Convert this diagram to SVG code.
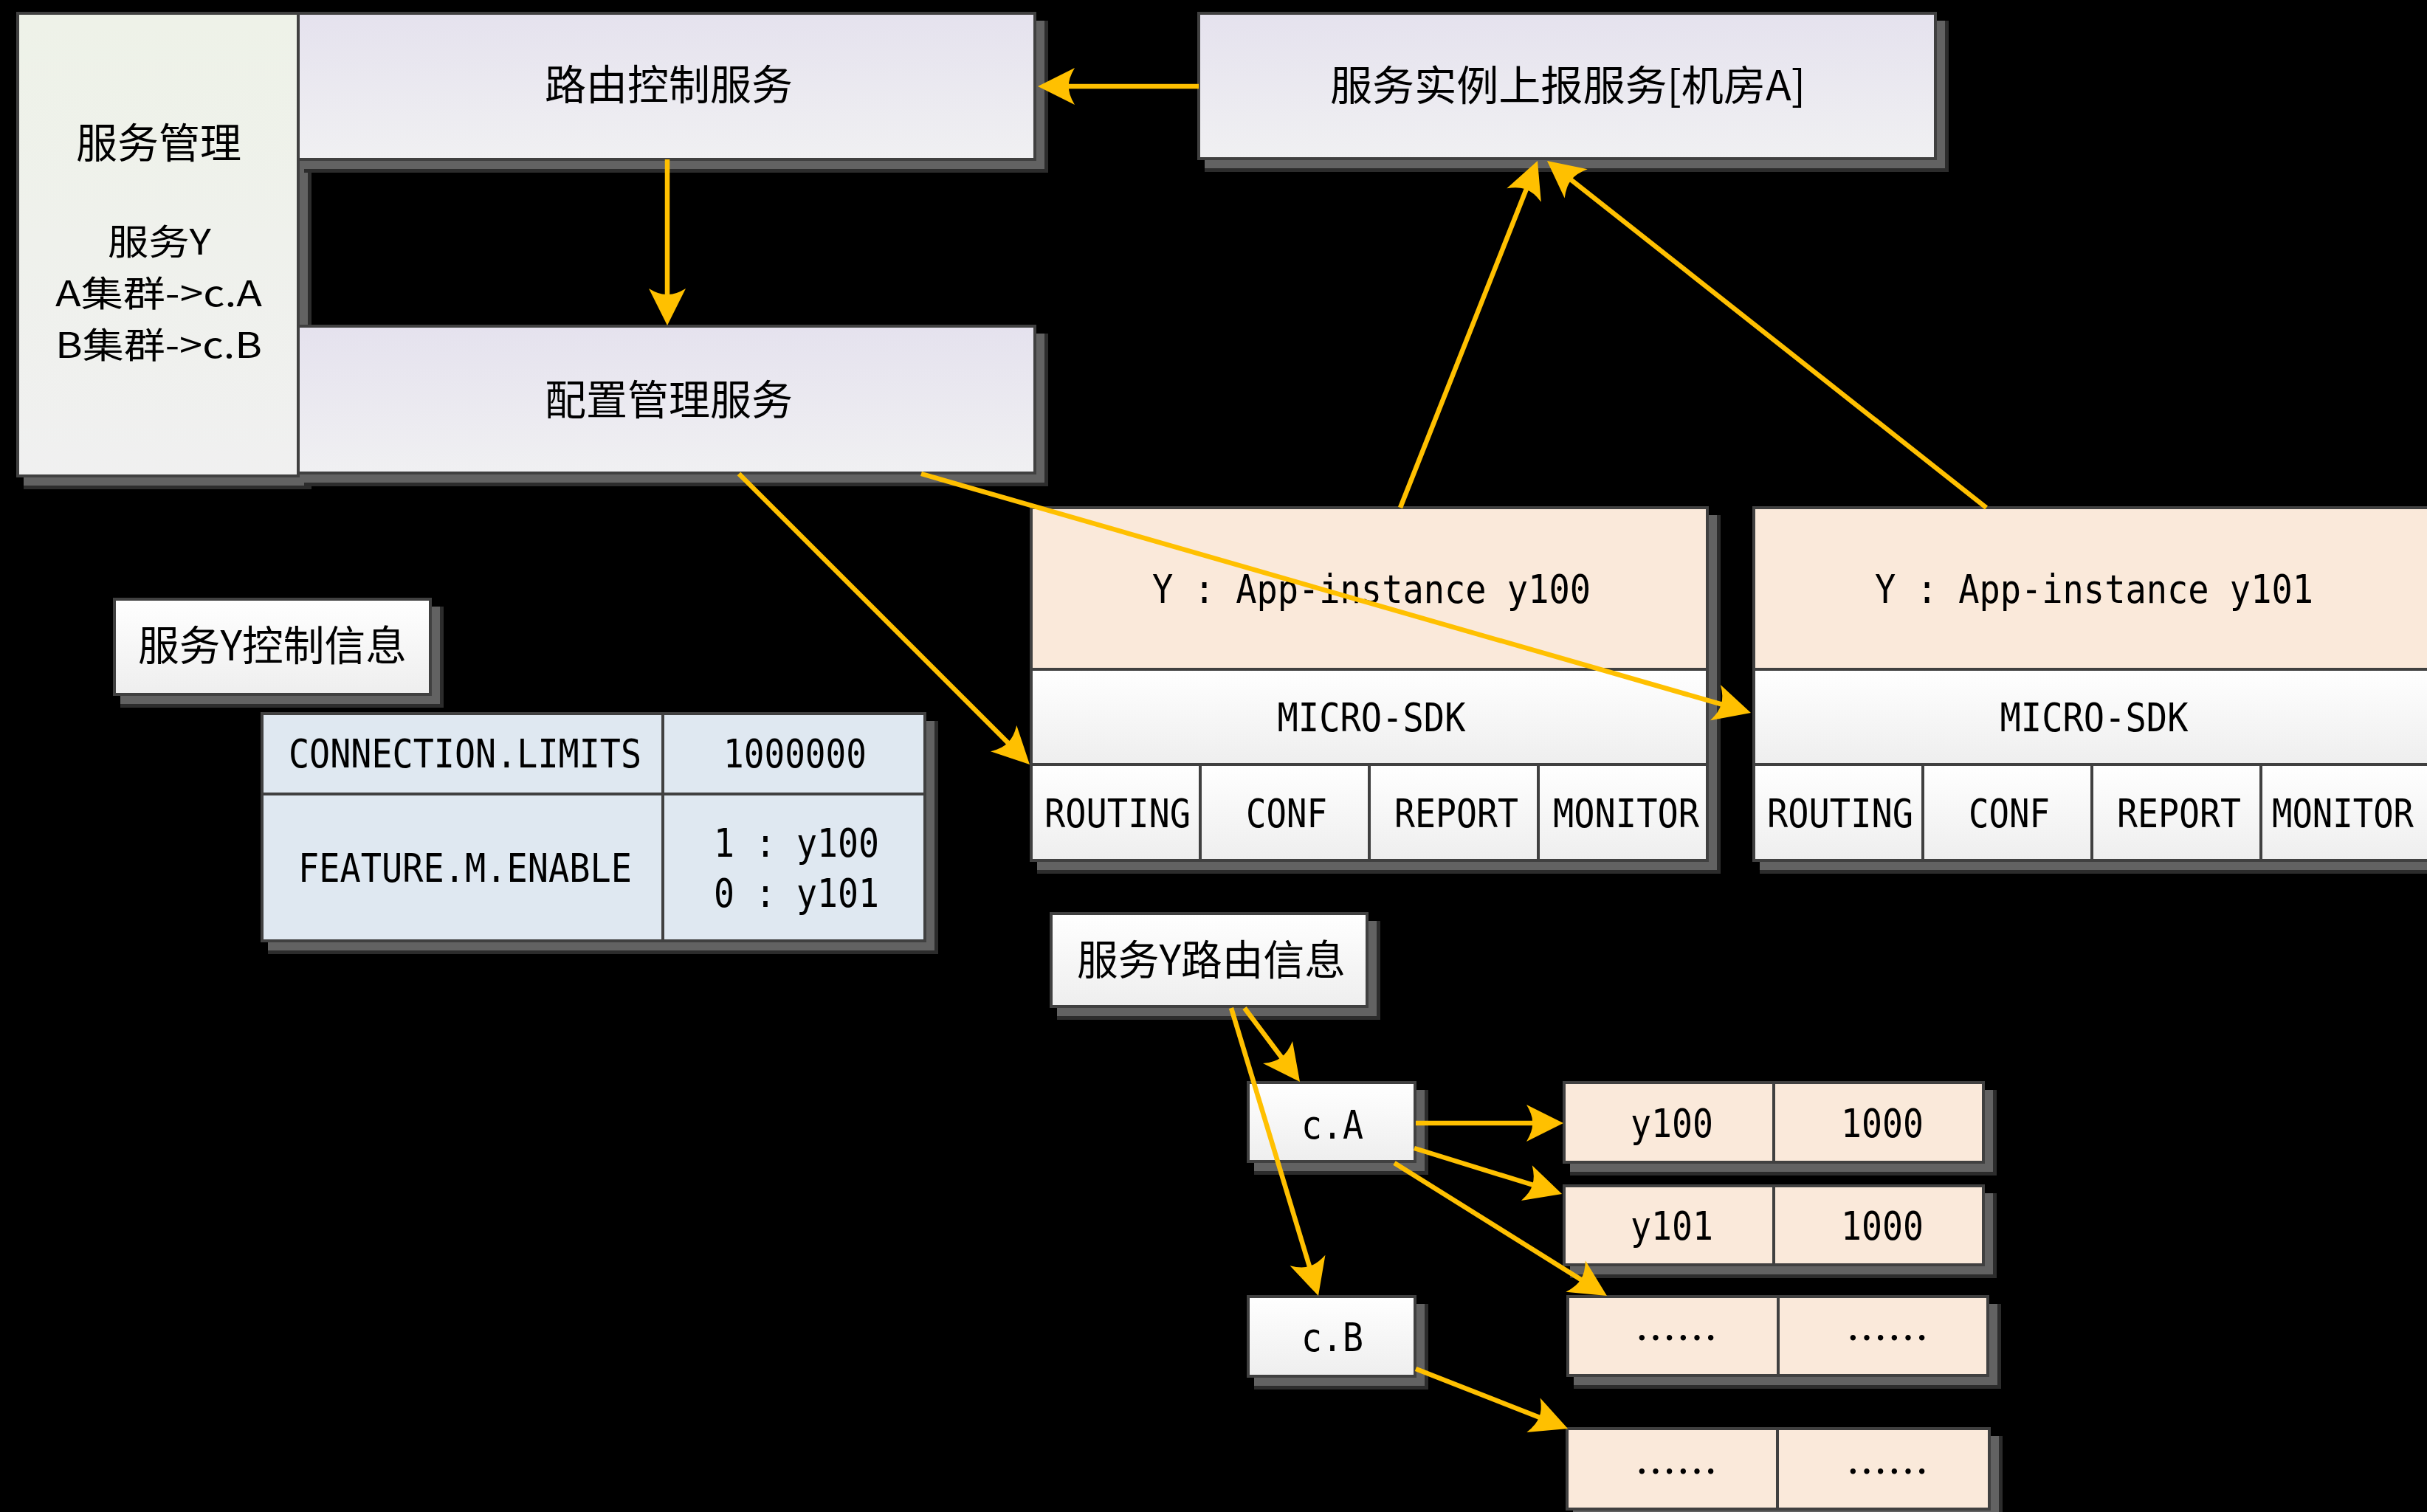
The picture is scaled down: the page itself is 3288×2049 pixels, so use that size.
<svg xmlns="http://www.w3.org/2000/svg" width="3288" height="2049" viewBox="0 0 3288 2049">
  <style>
    .bx{stroke:#404040;stroke-width:4}
    .dv{stroke:#404040;stroke-width:4;fill:none}
    .shd{fill:#2c2c2c}
    .shl{fill:#626262}
    .cjk{font-family:"Noto Sans CJK SC","Noto Sans CJK TC",sans-serif;font-size:56px;text-anchor:middle;fill:#000}
    .sm{font-size:48px}
    .mono{font-family:"DejaVu Sans Mono","Liberation Mono",monospace;font-size:54px;text-anchor:middle;fill:#000}
    .conn{stroke:#ffc000;stroke-width:6.5;fill:none;marker-end:url(#ah)}
    .peach{fill:#fae9da}
    .blue{fill:#dfe8f1}
  </style>
  <defs>
    <linearGradient id="gLav" x1="0" y1="0" x2="0" y2="1">
      <stop offset="0" stop-color="#e5e2ee"/>
      <stop offset="1" stop-color="#f0f0f2"/>
    </linearGradient>
    <linearGradient id="gGreen" x1="0" y1="0" x2="0" y2="1">
      <stop offset="0" stop-color="#eef2e8"/>
      <stop offset="1" stop-color="#f0f0f0"/>
    </linearGradient>
    <linearGradient id="gWhite" x1="0" y1="0" x2="0" y2="1">
      <stop offset="0" stop-color="#ffffff"/>
      <stop offset="1" stop-color="#eeeeee"/>
    </linearGradient>
    <marker id="ah" markerUnits="userSpaceOnUse" viewBox="-52 -27 56 54" markerWidth="56" markerHeight="54" refX="-10" refY="0" orient="auto" overflow="visible">
      <path d="M0,0 L-50,-25 Q-41,-10 -42,0 Q-41,10 -50,25 Z" fill="#ffc000"/>
    </marker>
  </defs>

  <rect x="0" y="0" width="3288" height="2049" fill="#000"/>

  <!-- service management column -->
  <g id="svc-mgmt">
    <rect class="shd" x="32" y="28" width="390" height="635"/>
    <rect class="shl" x="32" y="28" width="385" height="630"/>
    <rect class="bx" x="24" y="18" width="380" height="627" fill="url(#gGreen)"/>
    <text class="cjk" x="215" y="214">服务管理</text>
    <text class="cjk sm" x="216" y="345" textLength="140" lengthAdjust="spacingAndGlyphs">服务Y</text>
    <text class="cjk sm" x="215" y="415" textLength="280" lengthAdjust="spacingAndGlyphs">A集群-&gt;c.A</text>
    <text class="cjk sm" x="215" y="485" textLength="280" lengthAdjust="spacingAndGlyphs">B集群-&gt;c.B</text>
  </g>

  <!-- routing control service -->
  <g id="route-ctrl">
    <rect class="shd" x="412" y="28" width="1008" height="206"/>
    <rect class="shl" x="412" y="28" width="1003" height="201"/>
    <rect class="bx" x="404" y="18" width="998" height="198" fill="url(#gLav)"/>
    <text class="cjk" x="906" y="135">路由控制服务</text>
  </g>

  <!-- configuration management service -->
  <g id="conf-mgmt">
    <rect class="shd" x="412" y="452" width="1008" height="207"/>
    <rect class="shl" x="412" y="452" width="1003" height="202"/>
    <rect class="bx" x="404" y="442" width="998" height="199" fill="url(#gLav)"/>
    <text class="cjk" x="906" y="562">配置管理服务</text>
  </g>

  <!-- instance report service -->
  <g id="report-svc">
    <rect class="shd" x="1632" y="28" width="1008" height="205"/>
    <rect class="shl" x="1632" y="28" width="1003" height="200"/>
    <rect class="bx" x="1624" y="18" width="998" height="197" fill="url(#gLav)"/>
    <text class="cjk" x="2124" y="136" textLength="644" lengthAdjust="spacingAndGlyphs">服务实例上报服务[机房A]</text>
  </g>

  <!-- app instance y100 -->
  <g id="inst-y100">
    <rect class="shd" x="1405" y="698" width="926" height="486"/>
    <rect class="shl" x="1405" y="698" width="921" height="481"/>
    <rect class="bx peach" x="1397" y="688" width="916" height="219"/>
    <rect class="bx" x="1397" y="907" width="916" height="129" fill="url(#gWhite)"/>
    <rect class="bx" x="1397" y="1036" width="916" height="130" fill="url(#gWhite)"/>
    <path class="dv" d="M1626,1036V1166M1855,1036V1166M2084,1036V1166"/>
    <text class="mono" x="1858" y="817" textLength="594" lengthAdjust="spacingAndGlyphs">Y : App-instance y100</text>
    <text class="mono" x="1858" y="991" textLength="255" lengthAdjust="spacingAndGlyphs">MICRO-SDK</text>
    <text class="mono" x="1514" y="1121" textLength="198" lengthAdjust="spacingAndGlyphs">ROUTING</text>
    <text class="mono" x="1743" y="1121" textLength="110" lengthAdjust="spacingAndGlyphs">CONF</text>
    <text class="mono" x="1973" y="1121" textLength="168" lengthAdjust="spacingAndGlyphs">REPORT</text>
    <text class="mono" x="2203" y="1121" textLength="198" lengthAdjust="spacingAndGlyphs">MONITOR</text>
  </g>

  <!-- app instance y101 (runs past the right edge) -->
  <g id="inst-y101">
    <rect class="shd" x="2384" y="698" width="926" height="486"/>
    <rect class="shl" x="2384" y="698" width="921" height="481"/>
    <rect class="bx peach" x="2376" y="688" width="916" height="219"/>
    <rect class="bx" x="2376" y="907" width="916" height="129" fill="url(#gWhite)"/>
    <rect class="bx" x="2376" y="1036" width="916" height="130" fill="url(#gWhite)"/>
    <path class="dv" d="M2605,1036V1166M2834,1036V1166M3063,1036V1166"/>
    <text class="mono" x="2837" y="817" textLength="594" lengthAdjust="spacingAndGlyphs">Y : App-instance y101</text>
    <text class="mono" x="2837" y="991" textLength="255" lengthAdjust="spacingAndGlyphs">MICRO-SDK</text>
    <text class="mono" x="2493" y="1121" textLength="198" lengthAdjust="spacingAndGlyphs">ROUTING</text>
    <text class="mono" x="2722" y="1121" textLength="110" lengthAdjust="spacingAndGlyphs">CONF</text>
    <text class="mono" x="2952" y="1121" textLength="168" lengthAdjust="spacingAndGlyphs">REPORT</text>
    <text class="mono" x="3174" y="1121" font-size="50" textLength="192" lengthAdjust="spacingAndGlyphs">MONITOR</text>
  </g>

  <!-- control info label -->
  <g id="ctrl-info-label">
    <rect class="shd" x="163" y="822" width="438" height="137"/>
    <rect class="shl" x="163" y="822" width="433" height="132"/>
    <rect class="bx" x="155" y="812" width="428" height="129" fill="url(#gWhite)"/>
    <text class="cjk" x="369" y="895" textLength="364" lengthAdjust="spacingAndGlyphs">服务Y控制信息</text>
  </g>

  <!-- control info table -->
  <g id="ctrl-info-table">
    <rect class="shd" x="363" y="977" width="908" height="316"/>
    <rect class="shl" x="363" y="977" width="903" height="311"/>
    <rect class="bx blue" x="355" y="967" width="898" height="308"/>
    <path class="dv" d="M898,967V1275M355,1076H1253"/>
    <text class="mono" x="630" y="1040" textLength="478" lengthAdjust="spacingAndGlyphs">CONNECTION.LIMITS</text>
    <text class="mono" x="1077" y="1040" textLength="194" lengthAdjust="spacingAndGlyphs">1000000</text>
    <text class="mono" x="630" y="1195" textLength="452" lengthAdjust="spacingAndGlyphs">FEATURE.M.ENABLE</text>
    <text class="mono" x="1079" y="1161" textLength="224" lengthAdjust="spacingAndGlyphs">1 : y100</text>
    <text class="mono" x="1079" y="1229" textLength="224" lengthAdjust="spacingAndGlyphs">0 : y101</text>
  </g>

  <!-- routing info label -->
  <g id="route-info-label">
    <rect class="shd" x="1432" y="1248" width="438" height="134"/>
    <rect class="shl" x="1432" y="1248" width="433" height="129"/>
    <rect class="bx" x="1424" y="1238" width="428" height="126" fill="url(#gWhite)"/>
    <text class="cjk" x="1641" y="1321" textLength="364" lengthAdjust="spacingAndGlyphs">服务Y路由信息</text>
  </g>

  <!-- cluster c.A -->
  <g id="cluster-a">
    <rect class="shd" x="1699" y="1477" width="236" height="115"/>
    <rect class="shl" x="1699" y="1477" width="231" height="110"/>
    <rect class="bx" x="1691" y="1467" width="226" height="107" fill="url(#gWhite)"/>
    <text class="mono" x="1805" y="1543" textLength="84" lengthAdjust="spacingAndGlyphs">c.A</text>
  </g>

  <!-- cluster c.B -->
  <g id="cluster-b">
    <rect class="shd" x="1699" y="1767" width="236" height="116"/>
    <rect class="shl" x="1699" y="1767" width="231" height="111"/>
    <rect class="bx" x="1691" y="1757" width="226" height="108" fill="url(#gWhite)"/>
    <text class="mono" x="1805" y="1831" textLength="84" lengthAdjust="spacingAndGlyphs">c.B</text>
  </g>

  <!-- weight rows -->
  <g id="row-y100">
    <rect class="shd" x="2127" y="1477" width="578" height="116"/>
    <rect class="shl" x="2127" y="1477" width="573" height="111"/>
    <rect class="bx peach" x="2119" y="1467" width="568" height="108"/>
    <path class="dv" d="M2403,1467V1575"/>
    <text class="mono" x="2265" y="1541" textLength="112" lengthAdjust="spacingAndGlyphs">y100</text>
    <text class="mono" x="2550" y="1541" textLength="112" lengthAdjust="spacingAndGlyphs">1000</text>
  </g>

  <g id="row-y101">
    <rect class="shd" x="2127" y="1617" width="578" height="115"/>
    <rect class="shl" x="2127" y="1617" width="573" height="110"/>
    <rect class="bx peach" x="2119" y="1607" width="568" height="107"/>
    <path class="dv" d="M2403,1607V1714"/>
    <text class="mono" x="2265" y="1680" textLength="112" lengthAdjust="spacingAndGlyphs">y101</text>
    <text class="mono" x="2550" y="1680" textLength="112" lengthAdjust="spacingAndGlyphs">1000</text>
  </g>

  <g id="row-more-1">
    <rect class="shd" x="2132" y="1767" width="579" height="115"/>
    <rect class="shl" x="2132" y="1767" width="574" height="110"/>
    <rect class="bx peach" x="2124" y="1757" width="569" height="107"/>
    <path class="dv" d="M2409,1757V1864"/>
    <text class="cjk" x="2271" y="1834">……</text>
    <text class="cjk" x="2557" y="1834">……</text>
  </g>

  <g id="row-more-2">
    <rect class="shd" x="2131" y="1946" width="582" height="117"/>
    <rect class="shl" x="2131" y="1946" width="577" height="112"/>
    <rect class="bx peach" x="2123" y="1936" width="572" height="109"/>
    <path class="dv" d="M2408,1936V2045"/>
    <text class="cjk" x="2271" y="2015">……</text>
    <text class="cjk" x="2557" y="2015">……</text>
  </g>

  <!-- connectors -->
  <g id="connectors">
    <path class="conn" d="M1624,117 L1416,117"/>
    <path class="conn" d="M904,216 L904,431"/>
    <path class="conn" d="M1897,688 L2079.3,227.3"/>
    <path class="conn" d="M2691,688 L2103.8,224.2"/>
    <path class="conn" d="M1001,642 L1387.9,1028.9"/>
    <path class="conn" d="M1248,642 L2362.4,963.2"/>
    <path class="conn" d="M1686,1366 L1755,1458"/>
    <path class="conn" d="M1668,1366 L1783.1,1746.4"/>
    <path class="conn" d="M1918,1522 L2108,1522"/>
    <path class="conn" d="M1916,1556 L2106.5,1615"/>
    <path class="conn" d="M1889,1576 L2168.5,1750.7"/>
    <path class="conn" d="M1918,1855 L2114.7,1932.3"/>
  </g>
</svg>
